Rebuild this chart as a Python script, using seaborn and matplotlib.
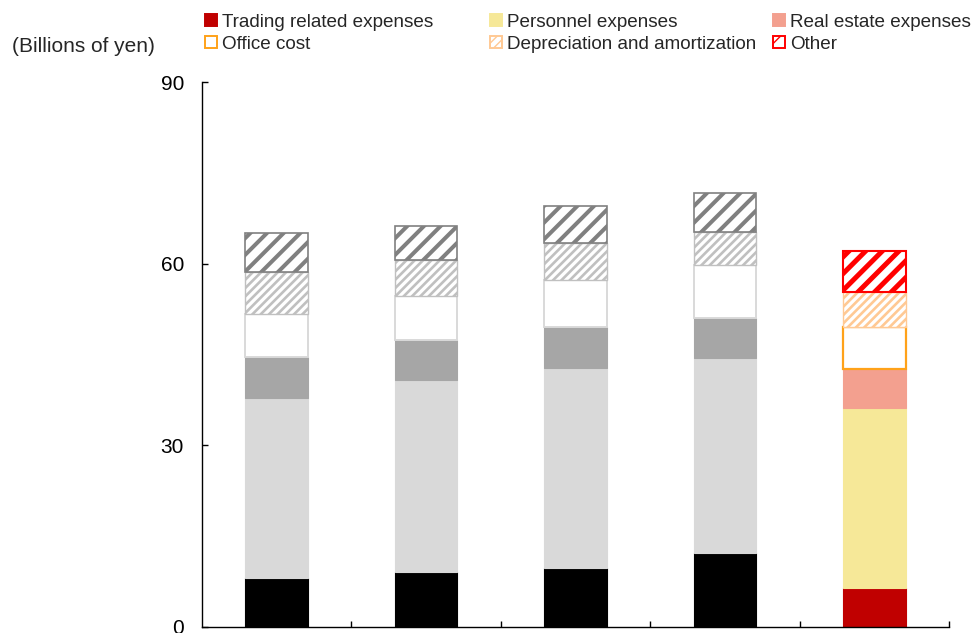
import matplotlib
matplotlib.use("Agg")
import matplotlib.pyplot as plt
from matplotlib.patches import Patch
import seaborn as sns

# values (billions of yen), bottom -> top
periods = ["P1", "P2", "P3", "P4", "P5"]
trading = [8.1, 9.1, 9.8, 12.2, 6.4]
personnel = [29.7, 31.7, 32.9, 32.2, 29.8]
real_estate = [6.8, 6.6, 6.8, 6.7, 6.4]
office = [7.1, 7.3, 7.8, 8.6, 6.9]
depreciation = [7.0, 5.9, 6.1, 5.6, 5.8]
other = [6.4, 5.6, 6.2, 6.3, 6.8]

labels = ["Trading related expenses", "Personnel expenses", "Real estate expenses",
          "Office cost", "Depreciation and amortization", "Other"]
layers = [trading, personnel, real_estate, office, depreciation, other]

# style of the first four (grey) bars and the highlighted last bar
grey = [
    dict(fc="#000000", ec="#000000", hatch=None, lw=0.8, hlw=1.0),
    dict(fc="#D9D9D9", ec="#D9D9D9", hatch=None, lw=0.8, hlw=1.0),
    dict(fc="#A6A6A6", ec="#A6A6A6", hatch=None, lw=0.8, hlw=1.0),
    dict(fc="white", ec="#D9D9D9", hatch=None, lw=1.4, hlw=1.0),
    dict(fc="white", ec="#C0C0C0", hatch="////", lw=1.0, hlw=1.9),
    dict(fc="white", ec="#808080", hatch="//", lw=1.2, hlw=2.9),
]
colour = [
    dict(fc="#C00000", ec="#C00000", hatch=None, lw=0.8, hlw=1.0),
    dict(fc="#F6E898", ec="#F6E898", hatch=None, lw=0.8, hlw=1.0),
    dict(fc="#F3A08F", ec="#F3A08F", hatch=None, lw=0.8, hlw=1.0),
    dict(fc="white", ec="#FFA219", hatch=None, lw=1.6, hlw=1.0),
    dict(fc="white", ec="#FFC994", hatch="////", lw=1.0, hlw=1.9),
    dict(fc="white", ec="#FF0000", hatch="//", lw=1.5, hlw=3.6),
]

sns.set_theme(style="ticks")
plt.rcParams["font.family"] = ["Liberation Sans", "DejaVu Sans"]

fig = plt.figure(figsize=(9.72, 6.33), dpi=100)
ax = fig.add_axes([202 / 972, 6 / 633, 747 / 972, 545 / 633])

bottom = [0.0] * len(periods)
for vals, gs, cs in zip(layers, grey, colour):
    with plt.rc_context({"hatch.linewidth": gs["hlw"]}):
        sns.barplot(x=periods, y=vals, bottom=bottom, width=0.42, color=gs["fc"],
                    edgecolor=gs["ec"], linewidth=gs["lw"], hatch=gs["hatch"],
                    errorbar=None, ax=ax)
    bars = ax.containers[-1]
    for i, bar in enumerate(bars):
        st = cs if i == len(periods) - 1 else gs
        bar.set_facecolor(st["fc"])
        bar.set_edgecolor(st["ec"])
        bar.set_linewidth(st["lw"])
        bar.set_hatch(st["hatch"])
        if hasattr(bar, "set_hatch_linewidth"):
            bar.set_hatch_linewidth(st["hlw"])
    bottom = [b + v for b, v in zip(bottom, vals)]

ax.set_xlim(-0.5, len(periods) - 0.5)
ax.set_ylim(0, 90)
ax.set_yticks([0, 30, 60, 90])
ax.set_xticks([i + 0.5 for i in range(len(periods))])
ax.set_xticklabels([])
ax.set_xlabel("")
ax.set_ylabel("")
ax.tick_params(axis="y", direction="in", length=4.5, width=1, labelsize=15, pad=13, colors="black")
ax.tick_params(axis="x", direction="in", length=4.5, width=1, colors="black")
for side in ["top", "right"]:
    ax.spines[side].set_visible(False)
for side in ["left", "bottom"]:
    ax.spines[side].set_color("black")
    ax.spines[side].set_linewidth(1.0)

fig.text(12 / 972, 1 - 46 / 633, "(Billions of yen)", fontsize=15, va="center", ha="left")

# legend: three columns of two entries
handles = []
for st in colour:
    h = Patch(facecolor=st["fc"], edgecolor=st["ec"], hatch=st["hatch"], linewidth=1.4)
    if st["hatch"] and hasattr(h, "set_hatch_linewidth"):
        h.set_hatch_linewidth(st["hlw"] * 0.6)
    handles.append(h)
col_x = [205, 490, 773]
for c in range(3):
    idx = [c, c + 3]
    fig.legend([handles[i] for i in idx], [labels[i] for i in idx],
               loc="upper left", bbox_to_anchor=(col_x[c] / 972, 1 - 14 / 633),
               frameon=False, fontsize=13.6, handlelength=0.62, handleheight=0.62,
               handletextpad=0.28, labelspacing=0.25, borderpad=0, borderaxespad=0)

fig.savefig("out.png", dpi=100)
